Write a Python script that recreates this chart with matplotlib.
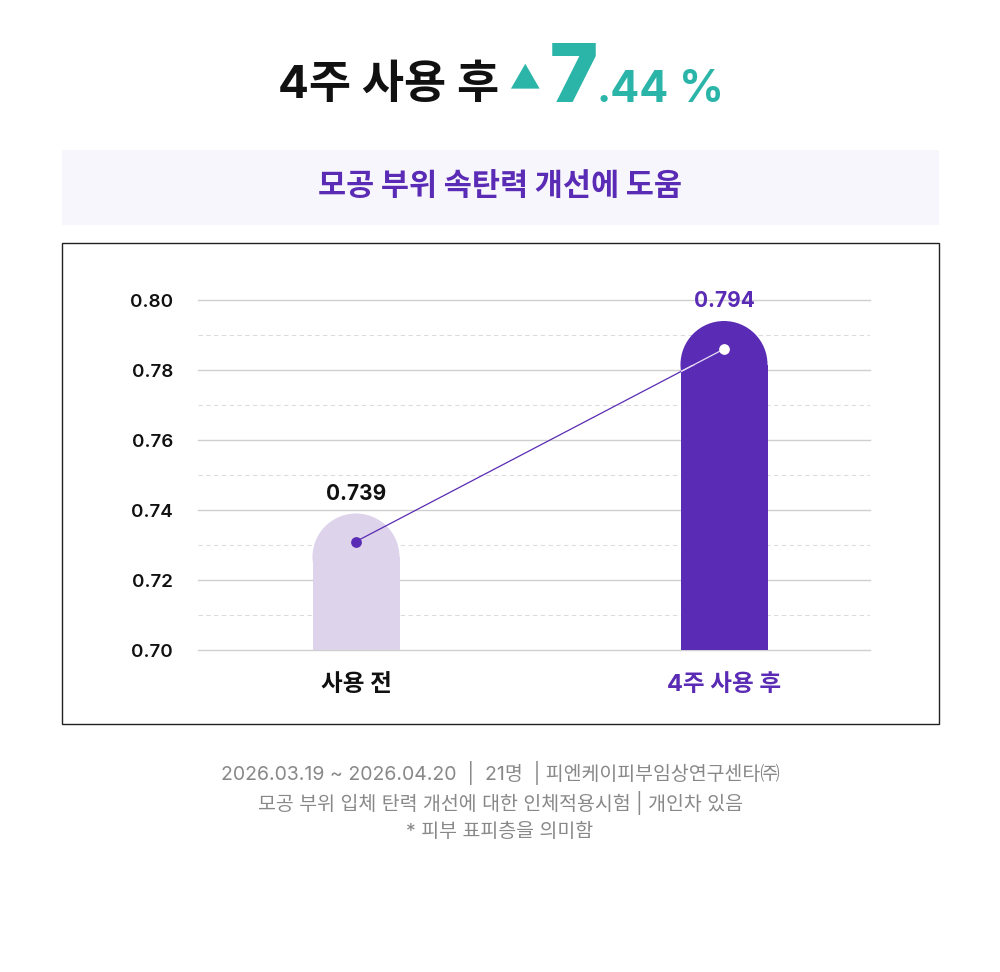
import matplotlib.pyplot as plt
from matplotlib.patches import Rectangle, Ellipse

FONT = ['Inter', 'Noto Sans CJK KR', 'DejaVu Sans']
plt.rcParams['font.family'] = FONT

categories = ['사용 전', '4주 사용 후']
values = [0.739, 0.794]
y_ticks = [0.70, 0.72, 0.74, 0.76, 0.78, 0.80]
y_minor = [0.71, 0.73, 0.75, 0.77, 0.79]
increase_pct = '7.44'

purple = '#5a2bb4'
light = '#ddd3ea'
teal = '#2bb5a9'

W, H = 1000, 972
fig = plt.figure(figsize=(W / 100, H / 100), dpi=100)
fig.patch.set_facecolor('white')


def fy(py):
    return 1 - py / H


# headline
fig.text(278 / W, fy(98), '4주 사용 후', fontsize=33, fontweight='bold',
         color='#111111', ha='left', va='baseline')
fig.text(509 / W, fy(88), '▲', fontsize=22, color=teal, ha='left', va='baseline',
         family=['Noto Sans CJK KR', 'DejaVu Sans'])
fig.text(550 / W, fy(102), increase_pct[0], fontsize=58, fontweight='black',
         color=teal, ha='left', va='baseline')
fig.text(596 / W, fy(102), increase_pct[1:], fontsize=31, fontweight='bold',
         color=teal, ha='left', va='baseline')
fig.text(679 / W, fy(102), '%', fontsize=32, fontweight='bold',
         color=teal, ha='left', va='baseline')

# subtitle band
fig.add_artist(Rectangle((62 / W, fy(225)), 877 / W, 75 / H, transform=fig.transFigure,
                         facecolor='#f8f6fd', edgecolor='none', zorder=0))
fig.text(0.5, fy(187), '모공 부위 속탄력 개선에 도움', fontsize=22, fontweight='heavy',
         color=purple, ha='center', va='center')

# chart frame
fig.add_artist(Rectangle((62 / W, fy(724)), 877 / W, 481 / H, transform=fig.transFigure,
                         facecolor='none', edgecolor='#222222', linewidth=1, zorder=0))

ax = fig.add_axes([198 / W, fy(650), 672 / W, 350 / H])
ax.set_facecolor('none')
xmin, xmax = -158 / 368, 1 + 146 / 368
ymin, ymax = 0.70, 0.80
ax.set_xlim(xmin, xmax)
ax.set_ylim(ymin, ymax)

px_x = 672 / (xmax - xmin)
px_y = 350 / (ymax - ymin)
bar_w = 87 / px_x
ry = 43.5 / px_y

ax.set_yticks(y_ticks)
ax.set_yticklabels(['%.2f' % v for v in y_ticks], fontsize=13.5, fontweight='semibold',
                   color='#111111')
ax.set_yticks(y_minor, minor=True)
ax.grid(which='major', axis='y', color='#cfcfcf', linewidth=1, linestyle='-')
ax.grid(which='minor', axis='y', color='#dcdcdc', linewidth=0.8, linestyle=(0, (4, 3)))
for gl in ax.get_ygridlines():
    gl.set_clip_on(False)
ax.tick_params(axis='y', which='both', length=0, pad=18)
ax.set_axisbelow(True)
for s in ax.spines.values():
    s.set_visible(False)

ax.set_xticks(range(len(categories)))
ax.set_xticklabels(categories, fontsize=17, fontweight='bold')
ax.tick_params(axis='x', length=0, pad=17)
for lab, c in zip(ax.get_xticklabels(), ['#111111', purple]):
    lab.set_color(c)

colors = [light, purple]
label_colors = ['#111111', purple]
dot_y = []
bar_parts = []
for i, (v, c) in enumerate(zip(values, colors)):
    r = Rectangle((i - bar_w / 2, ymin), bar_w, v - ry - ymin,
                  facecolor=c, edgecolor='none', zorder=3)
    e = Ellipse((i, v - ry), bar_w, 2 * ry, facecolor=c, edgecolor='none', zorder=3)
    ax.add_patch(r)
    ax.add_patch(e)
    bar_parts.append((r, e))
    ax.text(i, v + 10 / px_y, '%.3f' % v, ha='center', va='bottom', fontsize=15,
            fontweight='bold', color=label_colors[i], zorder=5, clip_on=False)
    dot_y.append(v - 28 / px_y)

ax.plot(range(len(values)), dot_y, color=purple, linewidth=0.9, zorder=4)
# the part of the line lying over the dark bar is drawn light
for part in bar_parts[1]:
    seg, = ax.plot(range(len(values)), dot_y, color='#e6ddf5', linewidth=0.9, zorder=4.5)
    seg.set_clip_path(part)
ax.scatter([0], [dot_y[0]], s=60, color=purple, zorder=6, linewidths=0)
ax.scatter([1], [dot_y[1]], s=60, color='white', zorder=6, linewidths=0)

# footer
foot = ['2026.03.19 ~ 2026.04.20  |  21명  | 피엔케이피부임상연구센타㈜',
        '모공 부위 입체 탄력 개선에 대한 인체적용시험 | 개인차 있음',
        '* 피부 표피층을 의미함']
for t, py in zip(foot, [773, 803, 832]):
    fig.text(0.5, fy(py), t, fontsize=14, color='#888888', ha='center', va='center')

fig.savefig('out.png', dpi=100)
